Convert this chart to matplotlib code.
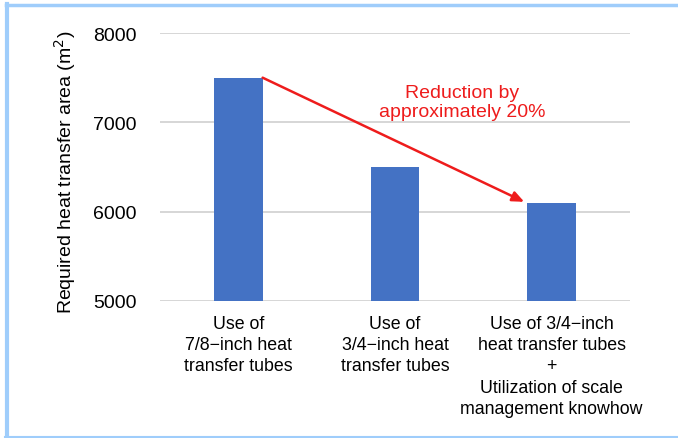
import matplotlib.pyplot as plt
from matplotlib.lines import Line2D

categories = [
    "Use of\n7/8\u2212inch heat\ntransfer tubes",
    "Use of\n3/4\u2212inch heat\ntransfer tubes",
    "Use of 3/4\u2212inch\nheat transfer tubes\n+\nUtilization of scale\nmanagement knowhow",
]
areas = [7500, 6500, 6100]
y_ticks = [5000, 6000, 7000, 8000]
note = "Reduction by\napproximately 20%"

W, H = 678, 439
fig = plt.figure(figsize=(W / 100, H / 100), dpi=100)
fig.patch.set_facecolor("white")

ax = fig.add_axes([160 / W, 1 - 302 / H, 470 / W, 268 / H])
x = list(range(len(categories)))
bar_w = 0.31
ax.bar(x, areas, width=bar_w, color="#4472C4", zorder=3)

ax.set_xlim(-0.5, len(categories) - 0.5)
ax.set_ylim(5000, 8000)
ax.set_yticks(y_ticks)
ax.set_yticklabels([str(v) for v in y_ticks], fontsize=14, family="Liberation Sans")
ax.yaxis.grid(True, color="#d0d0d0", linewidth=1.2, zorder=0)
ax.set_xticks(x)
ax.set_xticklabels(categories, fontsize=12.8, family="Liberation Sans", linespacing=1.33)
ax.tick_params(axis="both", length=0)
ax.tick_params(axis="y", pad=17)
ax.tick_params(axis="x", pad=10)
for s in ax.spines.values():
    s.set_visible(False)

ax.set_ylabel("Required heat transfer area (m$^2$)", fontsize=14,
              family="Liberation Sans", labelpad=11)
ax.yaxis.label.set_y(0.485)

# Arrow from the top of the first bar to the top of the last bar
ax.annotate("", xy=(2 - bar_w / 2 - 0.02, areas[2] + 10),
            xytext=(0 + bar_w / 2, areas[0]),
            arrowprops=dict(arrowstyle="-|>,head_length=0.7,head_width=0.3",
                        color="#ee1c1c", lw=1.8, shrinkA=0, shrinkB=0),
            zorder=4)
ax.text(1.43, 7230, note, color="#ee1c1c", fontsize=14,
        family="Liberation Sans", ha="center", va="center", linespacing=1.15,
        zorder=5)

# Light blue frame
frame = "#9fcdfb"
fig.add_artist(Line2D([6 / W, 1], [1 - 6 / H, 1 - 6 / H], color=frame, lw=2.5,
                      transform=fig.transFigure))
fig.add_artist(Line2D([6.5 / W, 6.5 / W], [1 - 5 / H, 1 - 438 / H], color=frame, lw=3,
                      transform=fig.transFigure))
fig.add_artist(Line2D([5 / W, 1], [1 - 437.5 / H, 1 - 437.5 / H], color=frame, lw=1.5,
                      transform=fig.transFigure))

fig.savefig("out.png", dpi=100)
